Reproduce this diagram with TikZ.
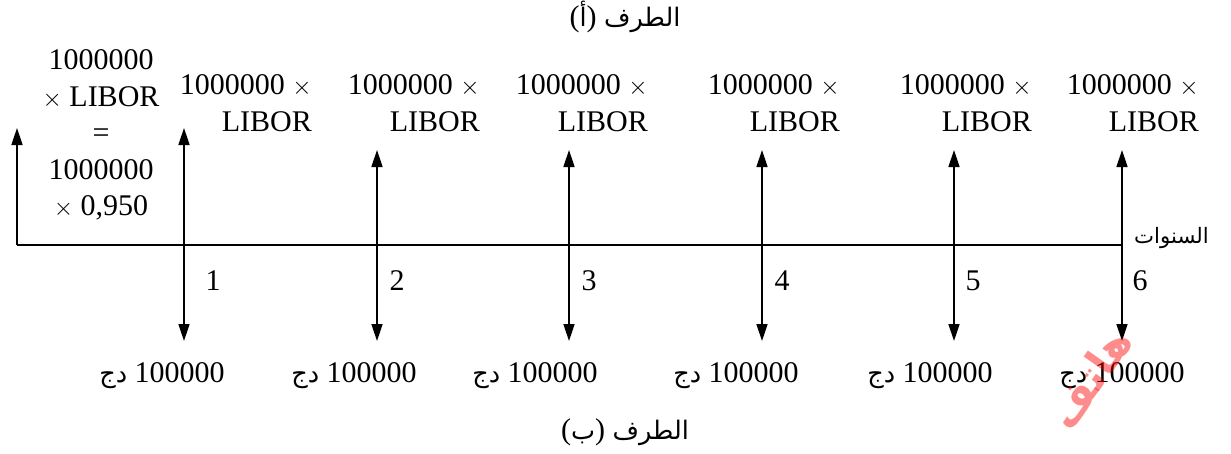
\documentclass[tikz,border=0pt]{standalone}
\usepackage{fontspec}
\setmainfont{Liberation Serif}
\newfontfamily\arabicfont[Script=Arabic, Scale=0.85]{DejaVu Sans}
\usetikzlibrary{arrows.meta, positioning}

\begin{document}
\begin{tikzpicture}[
    x=1pt, y=-1pt,
    txt/.style={inner sep=0pt, font=\fontsize{30}{36.5}\selectfont},
    pay/.style={txt, align=right, anchor=east},
    axis/.style={line width=1.6pt},
    arr/.style={line width=1.6pt, -{Triangle[width=11pt, length=17pt]}},
    dbl/.style={line width=1.6pt, {Triangle[width=11pt, length=17pt]}-{Triangle[width=11pt, length=17pt]}}
]
  \useasboundingbox (0,0) rectangle (1231,453);

  % titles
  \node[txt] (partA) at (625,17) {({\arabicfont أ}) {\arabicfont الطرف}};
  \node[txt] (partB) at (625,432) {({\arabicfont ب}) {\arabicfont الطرف}};

  % time axis
  \coordinate (o) at (17,245);
  \coordinate (o top) at (17,128);
  \coordinate (axis end) at (1122,245);
  \draw[axis] (o) -- (axis end);
  \draw[arr] (o) -- (o top);
  \node[txt, anchor=west, font=\fontsize{25}{30}\selectfont] (years) at (1134,238) {\arabicfont السنوات};

  % initial payment
  \node[txt, align=center] (start) at (101,135)
    {1000000\\$\times$ LIBOR\\=\\1000000\\$\times$ 0,950};

  % yearly flows
  \coordinate (t1) at (184,128);
  \coordinate (b1) at (184,341);
  \draw[dbl] (b1) -- (t1);
  \foreach \i/\x in {2/377, 3/569, 4/762, 5/954, 6/1122}{
    \coordinate (t\i) at (\x,150);
    \coordinate (b\i) at (\x,341);
    \draw[dbl] (b\i) -- (t\i);
  }
  \foreach \i/\x in {1/213, 2/397, 3/589, 4/782, 5/973, 6/1140}
    \node[txt] (yr\i) at (\x,281) {\i};
  \foreach \i/\x in {1/312, 2/480, 3/648, 4/840, 5/1032, 6/1199}
    \node[pay] (libor\i) at (\x,103) {1000000 $\times$\\LIBOR};
  \foreach \i/\x in {1/162, 2/354, 3/535, 4/736, 5/930, 6/1122}
    \node[txt] (fix\i) at (\x,376) {{\arabicfont دج} 100000};

  % watermark
  \node[font=\arabicfont\bfseries\fontsize{50}{50}\selectfont, text=red, opacity=0.45,
        rotate=55, inner sep=0pt] (mark) at (1090,378) {هاتف};
\end{tikzpicture}
\end{document}
